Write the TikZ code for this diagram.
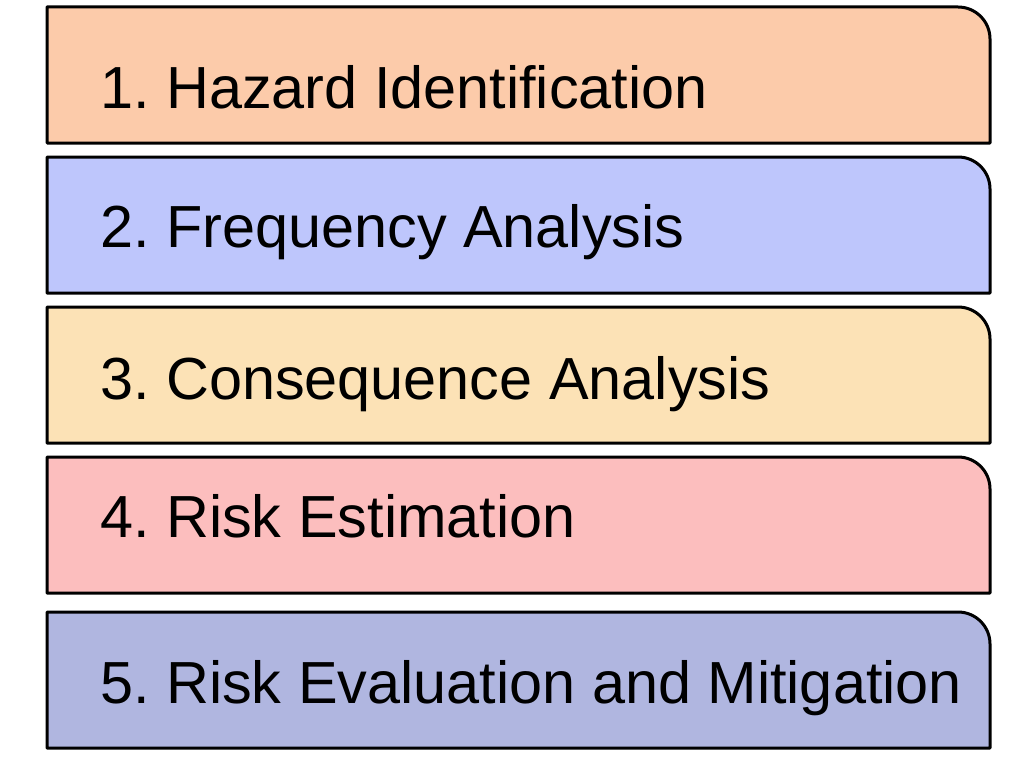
\documentclass[tikz,border=0pt]{standalone}
\usepackage{fontspec}
\setmainfont{Liberation Sans}
\usepackage{xcolor}
\frenchspacing
\definecolor{hazcol}{RGB}{252,203,170}
\definecolor{freqcol}{RGB}{190,198,252}
\definecolor{conscol}{RGB}{252,226,182}
\definecolor{estcol}{RGB}{252,190,190}
\definecolor{evalcol}{RGB}{176,182,224}

\begin{document}
\begin{tikzpicture}[x=1pt,y=-1pt,panel/.style={draw=black, line width=3pt, line join=round},
  label/.style={anchor=base west, inner sep=0pt, font=\fontsize{59.4}{70}\selectfont}]
    \useasboundingbox (0,0) rectangle (1024,757);
    % boxes, only the top right corner is rounded
    \draw[panel, fill=hazcol] (47,143) -- (47,7) -- (958,7) arc[start angle=-90, end angle=0, radius=32] -- (990,143) -- cycle;
    \draw[panel, fill=freqcol] (47,293) -- (47,157) -- (958,157) arc[start angle=-90, end angle=0, radius=32] -- (990,293) -- cycle;
    \draw[panel, fill=conscol] (47,443) -- (47,307) -- (958,307) arc[start angle=-90, end angle=0, radius=32] -- (990,443) -- cycle;
    \draw[panel, fill=estcol] (47,593) -- (47,457) -- (958,457) arc[start angle=-90, end angle=0, radius=32] -- (990,593) -- cycle;
    \draw[panel, fill=evalcol] (47,748) -- (47,612) -- (958,612) arc[start angle=-90, end angle=0, radius=32] -- (990,748) -- cycle;
    % step names
    \node [label] (haz)  at (100,109) {1. Hazard Identification};
    \node [label] (freq) at (100,247) {2. Frequency Analysis};
    \node [label] (cons) at (100,399) {3. Consequence Analysis};
    \node [label] (est)  at (100,537) {4. Risk Estimation};
    \node [label] (eval) at (100,703) {5. Risk Evaluation and Mitigation};
\end{tikzpicture}
\end{document}
